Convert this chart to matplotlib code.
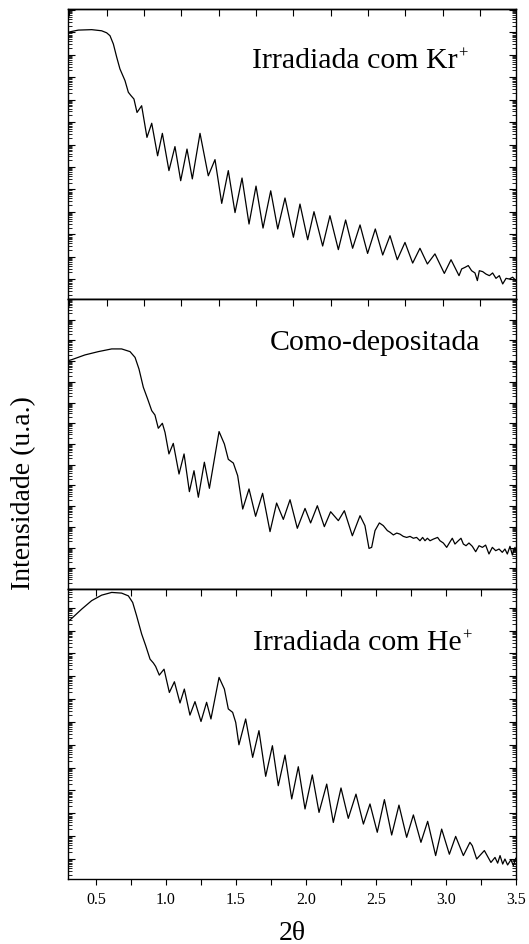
import numpy as np
import matplotlib
matplotlib.use("Agg")
import matplotlib.pyplot as plt
from matplotlib.ticker import MultipleLocator, LogLocator, NullFormatter, FormatStrFormatter

plt.rcParams['font.family'] = ['Liberation Serif', 'DejaVu Serif']
plt.rcParams['mathtext.fontset'] = 'stix'

# ---- X-ray reflectivity curves: 2theta and log10(intensity, a.u.) ----
kr_2theta = [0.300, 0.326, 0.374, 0.469, 0.540, 0.576, 0.600, 0.624, 0.648, 0.671, 0.707,
             0.731, 0.750, 0.771, 0.793, 0.826, 0.864, 0.898, 0.940, 0.974, 1.021,
             1.064, 1.105, 1.150, 1.188, 1.243, 1.302, 1.350, 1.398, 1.445, 1.493,
             1.543, 1.593, 1.643, 1.693, 1.748, 1.798, 1.850, 1.910, 1.957, 2.012,
             2.057, 2.119, 2.171, 2.231, 2.283, 2.333, 2.386, 2.440, 2.495, 2.548,
             2.600, 2.652, 2.707, 2.762, 2.814, 2.867, 2.921, 2.988, 3.036, 3.093,
             3.112, 3.136, 3.159, 3.183, 3.207, 3.224, 3.238, 3.262, 3.286, 3.310,
             3.333, 3.357, 3.381, 3.405, 3.429, 3.452, 3.476, 3.500]
kr_log10 = [12.00, 12.04, 12.10, 12.12, 12.07, 11.98, 11.85, 11.48, 10.89, 10.37, 9.85,
            9.33, 9.18, 9.03, 8.43, 8.73, 7.32, 7.95, 6.50, 7.50, 5.84,
            6.91, 5.39, 6.80, 5.47, 7.50, 5.61, 6.33, 4.38, 5.84, 3.97,
            5.51, 3.46, 5.15, 3.28, 4.94, 3.24, 4.62, 2.87, 4.35, 2.76,
            4.01, 2.48, 3.83, 2.32, 3.64, 2.38, 3.42, 2.15, 3.24, 2.08,
            2.94, 1.87, 2.64, 1.72, 2.38, 1.68, 2.13, 1.26, 1.87, 1.16,
            1.46, 1.53, 1.61, 1.38, 1.28, 0.94, 1.38, 1.34, 1.23, 1.16,
            1.28, 1.04, 1.16, 0.79, 1.04, 1.01, 1.09, 0.94]

dep_2theta = [0.300, 0.326, 0.421, 0.517, 0.612, 0.683, 0.743, 0.779, 0.807, 0.838, 0.869,
              0.898, 0.921, 0.945, 0.974, 0.993, 1.021, 1.052, 1.093, 1.129, 1.167,
              1.200, 1.231, 1.274, 1.310, 1.379, 1.417, 1.445, 1.481, 1.512, 1.548,
              1.593, 1.640, 1.690, 1.743, 1.790, 1.838, 1.886, 1.938, 1.993, 2.033,
              2.081, 2.131, 2.176, 2.231, 2.274, 2.331, 2.386, 2.421, 2.450, 2.469,
              2.493, 2.524, 2.552, 2.581, 2.600, 2.624, 2.648, 2.671, 2.695, 2.719,
              2.743, 2.767, 2.790, 2.814, 2.833, 2.850, 2.867, 2.886, 2.910, 2.940,
              2.957, 2.981, 3.005, 3.029, 3.045, 3.064, 3.088, 3.107, 3.124, 3.143,
              3.164, 3.188, 3.212, 3.236, 3.260, 3.283, 3.307, 3.331, 3.355, 3.379,
              3.402, 3.421, 3.438, 3.457, 3.474, 3.493, 3.500]
dep_log10 = [11.02, 11.07, 11.30, 11.46, 11.59, 11.59, 11.46, 11.18, 10.62, 9.74, 9.17,
             8.61, 8.40, 7.76, 8.00, 7.56, 6.52, 7.03, 5.55, 6.52, 4.70,
             5.71, 4.43, 6.12, 4.86, 7.60, 7.00, 6.26, 6.08, 5.47, 3.86,
             4.83, 3.51, 4.62, 2.77, 4.15, 3.36, 4.31, 2.93, 3.89, 3.19,
             4.02, 3.01, 3.73, 3.30, 3.78, 2.57, 3.54, 3.06, 1.96, 2.01,
             2.82, 3.19, 3.06, 2.82, 2.74, 2.61, 2.70, 2.65, 2.54, 2.49,
             2.54, 2.45, 2.49, 2.33, 2.49, 2.33, 2.45, 2.33, 2.41, 2.49,
             2.33, 2.22, 2.01, 2.28, 2.45, 2.17, 2.33, 2.45, 2.17, 2.09,
             2.22, 2.06, 1.80, 2.09, 2.01, 2.12, 1.69, 2.01, 1.85, 1.93,
             1.77, 1.93, 1.69, 2.06, 1.64, 2.01, 1.85]

he_2theta = [0.300, 0.326, 0.398, 0.469, 0.540, 0.612, 0.683, 0.731, 0.762, 0.790, 0.826,
             0.855, 0.886, 0.910, 0.926, 0.952, 0.986, 1.024, 1.060, 1.100, 1.131,
             1.171, 1.207, 1.250, 1.290, 1.321, 1.379, 1.417, 1.445, 1.476, 1.498,
             1.521, 1.569, 1.619, 1.664, 1.712, 1.760, 1.802, 1.850, 1.898, 1.945,
             1.993, 2.045, 2.093, 2.148, 2.195, 2.250, 2.302, 2.357, 2.410, 2.457,
             2.509, 2.560, 2.612, 2.664, 2.719, 2.767, 2.821, 2.869, 2.926, 2.969,
             3.024, 3.069, 3.124, 3.171, 3.188, 3.219, 3.274, 3.321, 3.350, 3.369,
             3.386, 3.405, 3.421, 3.440, 3.464, 3.481, 3.498]
he_log10 = [11.40, 11.53, 11.94, 12.31, 12.55, 12.67, 12.64, 12.52, 12.23, 11.65, 10.85,
            10.34, 9.75, 9.58, 9.43, 9.05, 9.31, 8.29, 8.76, 7.83, 8.44,
            7.30, 7.89, 7.02, 7.86, 7.13, 8.95, 8.44, 7.57, 7.42, 6.98,
            6.00, 7.13, 5.45, 6.62, 4.62, 5.96, 4.21, 5.55, 3.63, 5.04,
            3.19, 4.68, 3.04, 4.28, 2.60, 4.11, 2.78, 3.84, 2.53, 3.41,
            2.17, 3.60, 2.05, 3.36, 1.95, 2.93, 1.73, 2.65, 1.15, 2.31,
            1.21, 1.99, 1.15, 1.73, 1.58, 1.00, 1.37, 0.85, 1.07, 0.82,
            1.15, 0.78, 1.00, 0.74, 0.97, 0.71, 1.03]

panel_labels = ["Irradiada com Kr", "Como-depositada", "Irradiada com He"]
panel_sups = ["+", "", "+"]
x_label = "2θ"
y_label = "Intensidade (u.a.)"

W, H = 529, 945
fig = plt.figure(figsize=(W / 100, H / 100), dpi=100)

left, right = 68 / W, 516 / W
edges_px = [10, 300, 590, 880]
ylims = [(0.12, 13.04), (0.0, 14.0), (0.125, 12.82)]
label_pos = [(0.411, 0.800), (0.451, 0.828), (0.413, 0.793)]
series = [(kr_2theta, kr_log10), (dep_2theta, dep_log10), (he_2theta, he_log10)]

xmin, xmax = 0.3, 3.5
# the upper two frames carry a slightly compressed tick scale
def fwd(x):
    return 0.24 + (np.asarray(x) - 0.3) * 0.9375

def inv(u):
    return 0.3 + (np.asarray(u) - 0.24) / 0.9375

axes = []
for i in range(3):
    top_f = 1 - edges_px[i] / H
    bot_f = 1 - edges_px[i + 1] / H
    ax = fig.add_axes([left, bot_f, right - left, top_f - bot_f])
    axes.append(ax)
    xs, ly = series[i]
    ax.plot(xs, 10 ** np.asarray(ly), color='black', lw=0.9)
    ax.set_yscale('log')
    ax.set_xlim(xmin, xmax)
    ax.set_ylim(10 ** ylims[i][0], 10 ** ylims[i][1])
    for sp in ax.spines.values():
        sp.set_linewidth(1.0)

    ax.yaxis.set_major_locator(LogLocator(base=10, numticks=60))
    ax.yaxis.set_minor_locator(LogLocator(base=10, subs=np.arange(2, 10), numticks=60))
    ax.yaxis.set_major_formatter(NullFormatter())
    ax.yaxis.set_minor_formatter(NullFormatter())
    ax.tick_params(axis='y', which='both', direction='in', left=True, right=True)
    ax.tick_params(axis='y', which='major', length=5, width=0.8)
    ax.tick_params(axis='y', which='minor', length=2.6, width=0.6)

    t = ax.text(*label_pos[i], panel_labels[i], transform=ax.transAxes,
                fontsize=21.5, ha='left', va='baseline')
    if panel_sups[i]:
        ax.annotate(panel_sups[i], xy=(1.0, 1.0), xycoords=t,
                    xytext=(0.5, 1.5), textcoords='offset points',
                    fontsize=12, ha='left', va='top')

    if i < 2:
        ax.tick_params(axis='x', which='both', bottom=False, top=False,
                       labelbottom=False)
        sec = ax.secondary_xaxis('top', functions=(fwd, inv))
    else:
        ax.xaxis.set_major_locator(MultipleLocator(0.5))
        ax.xaxis.set_minor_locator(MultipleLocator(0.25))
        ax.xaxis.set_major_formatter(FormatStrFormatter('%.1f'))
        ax.tick_params(axis='x', which='both', direction='out', bottom=True, top=False,
                       length=4.5, width=0.8, labelsize=11.5, pad=4)
        sec = ax.secondary_xaxis('top')
    sec.xaxis.set_major_locator(MultipleLocator(0.25))
    sec.tick_params(axis='x', which='major', direction='in', length=5, width=0.8,
                    labeltop=False)
    sec.tick_params(axis='x', which='minor', top=False)
    sec.spines['top'].set_linewidth(1.0)

fig.text(292 / W, 5 / H, x_label, fontsize=20, ha='center', va='baseline')
fig.text(24 / W, 1 - 493 / H, y_label, rotation=90, fontsize=20,
         ha='center', va='center')

fig.savefig("out.png", dpi=100)
